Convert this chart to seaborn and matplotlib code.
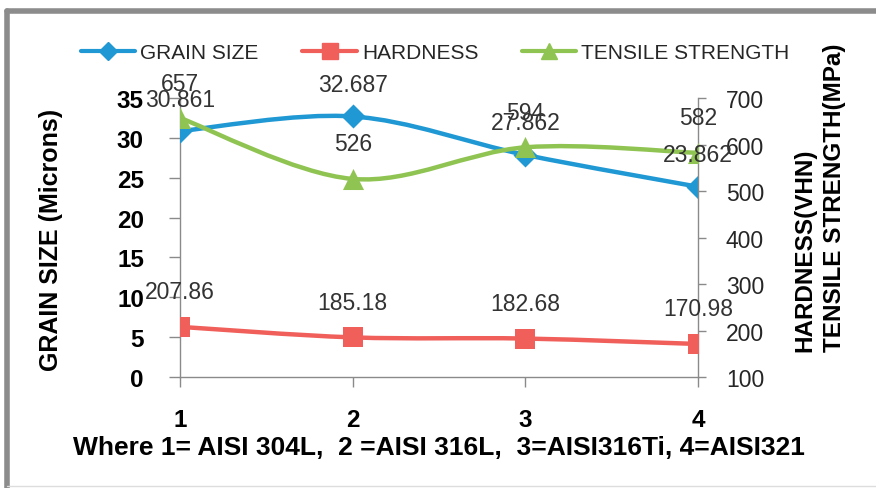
import numpy as np
import pandas as pd
import matplotlib
matplotlib.use("Agg")
import matplotlib.pyplot as plt
from matplotlib.path import Path
from matplotlib.patches import PathPatch
from matplotlib.lines import Line2D
import seaborn as sns

# ---- data ----
samples = [1, 2, 3, 4]
grain_size = [30.861, 32.687, 27.862, 23.862]
hardness = [207.86, 185.18, 182.68, 170.98]
tensile = [657, 526, 594, 582]
left_ticks = [0, 5, 10, 15, 20, 25, 30, 35]
right_ticks = [100, 200, 300, 400, 500, 600, 700]
grain_labels = ["30.861", "32.687", "27.862", "23.862"]
hard_labels = ["207.86", "185.18", "182.68", "170.98"]
tens_labels = ["657", "526", "594", "582"]

BLUE = "#1f98d4"
RED = "#f05f5a"
GREEN = "#8fc452"
AXC = "#8a8a8a"
TXT = "#262626"

sns.set_theme(style="white")
plt.rcParams["font.family"] = ["Liberation Sans", "DejaVu Sans"]

df = pd.DataFrame({"s": samples, "g": grain_size, "h": hardness, "t": tensile})

fig = plt.figure(figsize=(8.76, 4.89), dpi=100)
ax = fig.add_axes([0.2055, 0.227, 0.797 - 0.2055, 0.7975 - 0.227])
ax2 = ax.twinx()


def smooth_path(axis, xs, ys, color):
    xs = np.asarray(xs, float)
    ys = np.asarray(ys, float)
    n = len(xs)
    verts = [(xs[0], ys[0])]
    codes = [Path.MOVETO]
    for i in range(n - 1):
        p0 = np.array([xs[max(i - 1, 0)], ys[max(i - 1, 0)]])
        p1 = np.array([xs[i], ys[i]])
        p2 = np.array([xs[i + 1], ys[i + 1]])
        p3 = np.array([xs[min(i + 2, n - 1)], ys[min(i + 2, n - 1)]])
        c1 = p1 + (p2 - p0) / 6.0
        c2 = p2 - (p3 - p1) / 6.0
        verts += [tuple(c1), tuple(c2), tuple(p2)]
        codes += [Path.CURVE4] * 3
    patch = PathPatch(Path(verts, codes), facecolor="none", edgecolor=color,
                      lw=3.2, capstyle="round", joinstyle="round", zorder=3)
    axis.add_patch(patch)


# grain size on left axis
smooth_path(ax, df.s, df.g, BLUE)
sns.scatterplot(data=df, x="s", y="g", ax=ax, marker="D", s=150, color=BLUE,
                edgecolor=BLUE, linewidth=0, zorder=4, legend=False)
# hardness & tensile on right axis
smooth_path(ax2, df.s, df.h, RED)
smooth_path(ax2, df.s, df.t, GREEN)
sns.scatterplot(data=df, x="s", y="h", ax=ax2, marker="s", s=190, color=RED,
                edgecolor=RED, linewidth=0, zorder=4, legend=False)
sns.scatterplot(data=df, x="s", y="t", ax=ax2, marker="^", s=230, color=GREEN,
                edgecolor=GREEN, linewidth=0, zorder=4, legend=False)

lab_kw = dict(textcoords="offset pixels", ha="center", va="center",
              fontsize=16.5, color="#333333", zorder=6)
for x, y, t in zip(samples, grain_size, grain_labels):
    ax2.annotate(t, (x, (y / 35.0) * 600 + 100), xytext=(0, 32), **lab_kw)
for x, y, t in zip(samples, hardness, hard_labels):
    ax2.annotate(t, (x, y), xytext=(0, 35), **lab_kw)
for x, y, t in zip(samples, tensile, tens_labels):
    ax2.annotate(t, (x, y), xytext=(0, 35), **lab_kw)

ax.set_xlim(1, 4)
ax.set_ylim(0, 35)
ax2.set_ylim(100, 700)
ax.set_xticks(samples)
ax.set_xticklabels([str(s) for s in samples])
ax.set_yticks(left_ticks)
ax2.set_yticks(right_ticks)

for a in (ax, ax2):
    for sp in a.spines.values():
        sp.set_visible(False)
    a.set_xlabel("")
    a.set_ylabel("")
ax.spines["left"].set_visible(True)
ax.spines["bottom"].set_visible(True)
ax2.spines["right"].set_visible(True)
for sp in (ax.spines["left"], ax.spines["bottom"], ax2.spines["right"]):
    sp.set_color(AXC)
    sp.set_linewidth(1.0)

ax.tick_params(axis="y", which="both", left=True, direction="out", length=8,
               color=AXC, width=1, labelsize=17.5, labelcolor="black", pad=18)
ax.tick_params(axis="x", bottom=True, direction="out", length=7, color=AXC,
               width=1, labelsize=17.5, labelcolor="black", pad=15)
ax2.tick_params(axis="y", right=True, direction="out", length=6, color=AXC,
                width=1, labelsize=16.5, labelcolor=TXT, pad=14)
for lbl in ax.get_yticklabels() + ax.get_xticklabels():
    lbl.set_fontweight("bold")

ax.set_xlabel("Where 1= AISI 304L,  2 =AISI 316L,  3=AISI316Ti, 4=AISI321",
              fontsize=19, fontweight="bold", color="black", labelpad=3)
fig.text(0.058, 0.509, "GRAIN SIZE (Microns)", rotation=90, ha="center",
         va="center", fontsize=18, fontweight="bold", color="black")
fig.text(0.936, 0.28, "HARDNESS(VHN)\nTENSILE STRENGTH(MPa)", rotation=90,
         ha="center", va="bottom", multialignment="left", fontsize=17.5,
         fontweight="bold", color="black", linespacing=1.35)

handles = [
    Line2D([], [], color=BLUE, lw=3, marker="D", markersize=9, label="GRAIN SIZE"),
    Line2D([], [], color=RED, lw=3, marker="s", markersize=12, label="HARDNESS"),
    Line2D([], [], color=GREEN, lw=3, marker="^", markersize=12, label="TENSILE STRENGTH"),
]
fig.legend(handles=handles, loc="center", bbox_to_anchor=(0.497, 0.89), ncol=3,
           frameon=False, fontsize=15, handlelength=2.6, handletextpad=0.25,
           columnspacing=2.1, labelcolor=TXT)

# figure frame (gray border like the source image)
fig.add_artist(Line2D([0.008, 0.008], [0.0, 0.975], transform=fig.transFigure,
                      color="#8c8c8c", lw=4))
fig.add_artist(Line2D([0.008, 1.0], [0.975, 0.975], transform=fig.transFigure,
                      color="#8c8c8c", lw=4))
fig.add_artist(Line2D([0.008, 1.0], [0.004, 0.004], transform=fig.transFigure,
                      color="#dddddd", lw=1))

fig.savefig("out.png", dpi=100)
